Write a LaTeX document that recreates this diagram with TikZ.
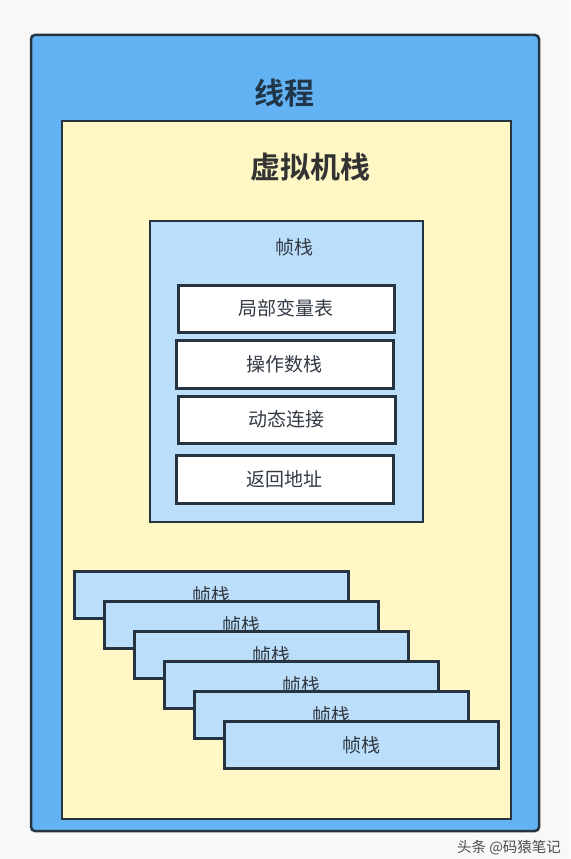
\documentclass[tikz,border=0pt]{standalone}
\usepackage{fontspec}
\newfontfamily\cjk{Noto Sans CJK SC}[BoldFont={Noto Sans CJK SC Bold}]
\definecolor{bgc}{HTML}{F8F8F8}
\definecolor{outerblue}{HTML}{63B3F4}
\definecolor{paleyellow}{HTML}{FFF8C4}
\definecolor{frameblue}{HTML}{BBDEFB}
\definecolor{edge}{HTML}{263442}
\definecolor{titlec}{HTML}{22364A}
\definecolor{txt}{HTML}{333B44}
\tikzset{
  box/.style={draw=edge, line width=2.5pt, inner sep=0pt},
  whitebox/.style={box, fill=white, line width=3pt},
  framebox/.style={box, fill=frameblue, line width=3pt},
  lbl/.style={font=\cjk\fontsize{19}{19}\selectfont, text=txt, inner sep=0pt, anchor=center},
  ttl/.style={font=\cjk\bfseries\fontsize{30}{30}\selectfont, text=titlec, inner sep=0pt, anchor=center},
}
\begin{document}
\begin{tikzpicture}[x=1pt,y=-1pt]
\fill[bgc] (0,0) rectangle (570,859);
\useasboundingbox (0,0) rectangle (570,859);
% thread
\draw[box, fill=outerblue, rounded corners=4pt] (31,35) rectangle (539,831);
\node[ttl] (thread) at (284,93) {线程};
% VM stack
\draw[box, fill=paleyellow] (62,121) rectangle (511,819);
\node[ttl, text=black!80] (vmstack) at (310.5,167) {虚拟机栈};
% frame stack
\draw[box, fill=frameblue] (150,221) rectangle (423,522);
\node[lbl] (fs) at (294,247) {帧栈};
\node[whitebox, minimum width=216pt, minimum height=47pt] (lv) at (286,308.5) {};
\node[lbl] at (lv) {局部变量表};
\node[whitebox, minimum width=217pt, minimum height=48pt] (os) at (284.5,364) {};
\node[lbl] at (os) {操作数栈};
\node[whitebox, minimum width=217pt, minimum height=47pt] (dl) at (286.5,419.5) {};
\node[lbl] at (dl) {动态连接};
\node[whitebox, minimum width=217pt, minimum height=48pt] (ra) at (284.5,479) {};
\node[lbl] at (ra) {返回地址};
% stacked frames
\foreach \i in {0,...,5} {
  \node[framebox, minimum width=274pt, minimum height=47pt] (f\i) at (211+30*\i,594.5+30*\i) {};
  \node[lbl] at ([yshift=-0.5pt]f\i.center) {帧栈};
}
% watermark
\node[font=\cjk\fontsize{14.5}{14.5}\selectfont, text=black!70, inner sep=0pt] (wm) at (509,848) {头条 @码猿笔记};
\end{tikzpicture}
\end{document}
